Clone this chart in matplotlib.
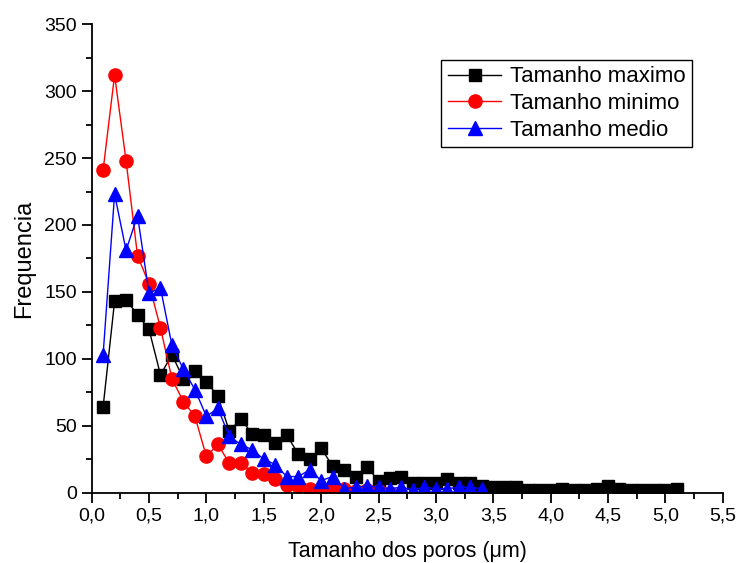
import matplotlib
matplotlib.use("Agg")
import matplotlib.pyplot as plt
from matplotlib.ticker import MultipleLocator, FuncFormatter

plt.rcParams['font.family'] = ['Liberation Sans', 'DejaVu Sans']

# dados
x_max = [0.1, 0.2, 0.3, 0.4, 0.5, 0.6, 0.7, 0.8, 0.9, 1.0,
         1.1, 1.2, 1.3, 1.4, 1.5, 1.6, 1.7, 1.8, 1.9, 2.0,
         2.1, 2.2, 2.3, 2.4, 2.5, 2.6, 2.7, 2.8, 2.9, 3.0,
         3.1, 3.2, 3.3, 3.4, 3.5, 3.6, 3.7, 3.8, 3.9, 4.0,
         4.1, 4.2, 4.3, 4.4, 4.5, 4.6, 4.7, 4.8, 4.9, 5.0, 5.1]
tam_maximo = [64, 143, 144, 133, 122, 88, 103, 85, 91, 83,
              72, 46, 55, 44, 43, 37, 43, 29, 25, 33,
              20, 17, 12, 19, 9, 11, 12, 7, 7, 7,
              10, 7, 7, 5, 4, 4, 4, 2, 2, 2,
              3, 2, 2, 3, 5, 3, 2, 2, 2, 2, 3]

x_min = [0.1, 0.2, 0.3, 0.4, 0.5, 0.6, 0.7, 0.8, 0.9, 1.0,
         1.1, 1.2, 1.3, 1.4, 1.5, 1.6, 1.7, 1.8, 1.9, 2.0,
         2.1, 2.2, 2.3, 2.4, 2.5, 2.6]
tam_minimo = [241, 312, 248, 177, 156, 123, 85, 68, 57, 27,
              36, 22, 22, 15, 14, 10, 6, 5, 3, 3,
              4, 3, 1, 2, 1, 0]

x_med = [0.1, 0.2, 0.3, 0.4, 0.5, 0.6, 0.7, 0.8, 0.9, 1.0,
         1.1, 1.2, 1.3, 1.4, 1.5, 1.6, 1.7, 1.8, 1.9, 2.0,
         2.1, 2.2, 2.3, 2.4, 2.5, 2.6, 2.7, 2.8, 2.9, 3.0,
         3.1, 3.2, 3.3, 3.4]
tam_medio = [103, 223, 181, 207, 149, 153, 110, 92, 77, 57,
             63, 42, 36, 32, 25, 21, 12, 12, 17, 9,
             12, 3, 4, 5, 4, 3, 4, 2, 4, 3,
             3, 4, 4, 3]

fig = plt.figure(figsize=(7.39, 5.63), dpi=100)
ax = fig.add_axes([0.124, 0.125, 0.854, 0.832])

ax.plot(x_max, tam_maximo, color='black', lw=1, marker='s', ms=8.5,
        label='Tamanho maximo')
ax.plot(x_min, tam_minimo, color='red', lw=1, marker='o', ms=9.5,
        label='Tamanho minimo')
ax.plot(x_med, tam_medio, color='blue', lw=1, marker='^', ms=10,
        label='Tamanho medio')

ax.set_xlim(0, 5.5)
ax.set_ylim(0, 350)
ax.xaxis.set_major_locator(MultipleLocator(0.5))
ax.xaxis.set_minor_locator(MultipleLocator(0.25))
ax.yaxis.set_major_locator(MultipleLocator(50))
ax.yaxis.set_minor_locator(MultipleLocator(25))
ax.xaxis.set_major_formatter(FuncFormatter(lambda v, p: f"{v:.1f}".replace('.', ',')))

for s in ['top', 'right']:
    ax.spines[s].set_visible(False)
for s in ['left', 'bottom']:
    ax.spines[s].set_linewidth(1.3)
ax.tick_params(which='major', direction='out', length=7, width=1.3, labelsize=14)
ax.tick_params(which='minor', direction='out', length=4, width=1.3)

ax.set_xlabel('Tamanho dos poros (\u03bcm)', fontsize=15.5, labelpad=12)
ax.set_ylabel('Frequencia', fontsize=17, labelpad=7)

leg = ax.legend(loc='upper right', bbox_to_anchor=(0.952, 0.924), borderaxespad=0,
                fontsize=16, numpoints=1, handlelength=2.4, labelspacing=0.25,
                fancybox=False, framealpha=1, edgecolor='black',
                borderpad=0.3, handletextpad=0.4)
leg.get_frame().set_linewidth(1)

plt.savefig('out.png', dpi=100)
